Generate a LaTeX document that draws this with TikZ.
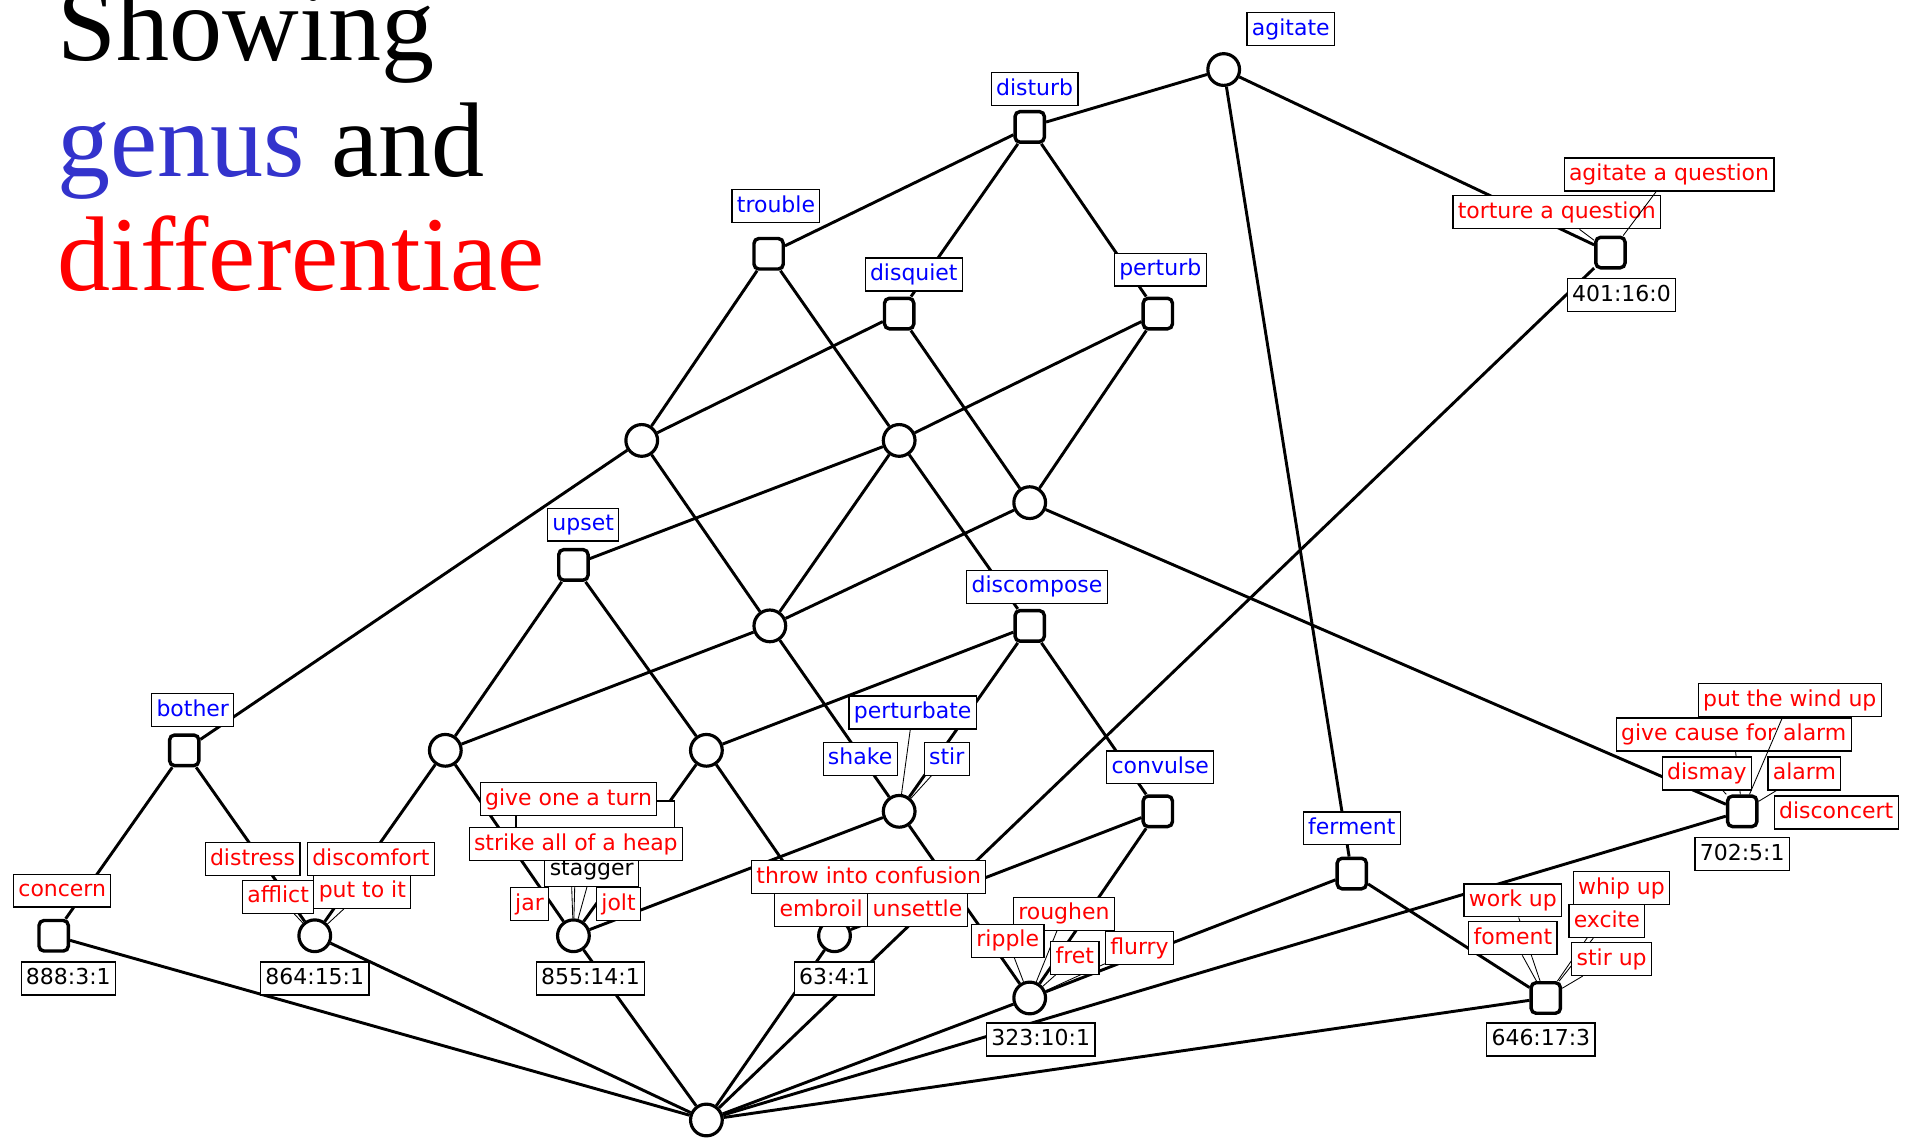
\documentclass[tikz,border=0pt]{standalone}
\usepackage{fontspec}
\usetikzlibrary{backgrounds}
\setmainfont{Liberation Serif}
\newfontfamily\labelfont{DejaVu Sans}
\definecolor{genuscol}{RGB}{51,51,204}
\definecolor{gblue}{RGB}{0,0,255}
\definecolor{dred}{RGB}{255,0,0}

\begin{document}
\begin{tikzpicture}[x=1pt,y=-1pt,
 title/.style={font=\fontsize{87}{87}\selectfont,inner sep=0pt,anchor=base west},
 objnode/.style={draw,line width=2.8pt,fill=white,rounded corners=4pt,minimum width=24pt,minimum height=25pt,inner sep=0pt},
 plainnode/.style={draw,circle,line width=2.6pt,fill=white,minimum size=26pt,inner sep=0pt},
 link/.style={line width=2.4pt},
 leader/.style={line width=0.7pt},
 lbl/.style={draw,line width=1pt,fill=white,font=\labelfont\fontsize{18}{18}\selectfont,inner xsep=4pt,inner ysep=4.5pt,text height=14pt,text depth=4pt},
 gen/.style={lbl,text=gblue},
 diff/.style={lbl,text=dred},
 ext/.style={lbl,text=black}]
 \useasboundingbox (0,0) rectangle (1568,933);

 \node[title] (ttlA) at (47,50) {Showing};
 \node[title] (ttlB) at (47,145) {\textcolor{genuscol}{genus} and};
 \node[title,text=dred] (ttlC) at (47,238) {differentiae};

 \node[plainnode] (agt) at (1003,57) {};
 \node[objnode] (dst) at (844,104) {};
 \node[objnode] (trb) at (630,208) {};
 \node[objnode] (dsq) at (737,257) {};
 \node[objnode] (ptb) at (949,257) {};
 \node[objnode] (q401) at (1320,207) {};
 \node[plainnode] (c1) at (526,361) {};
 \node[plainnode] (c2) at (737,361) {};
 \node[plainnode] (c3) at (844,412) {};
 \node[objnode] (ups) at (470,463) {};
 \node[plainnode] (c4) at (631,513) {};
 \node[objnode] (dcp) at (844,513) {};
 \node[objnode] (bth) at (151,615) {};
 \node[plainnode] (c5) at (365,615) {};
 \node[plainnode] (c6) at (579,615) {};
 \node[plainnode] (c7) at (737,665) {};
 \node[objnode] (cnv) at (949,665) {};
 \node[objnode] (q702) at (1428,665) {};
 \node[objnode] (frm) at (1108,716) {};
 \node[objnode] (q888) at (44,767) {};
 \node[plainnode] (q864) at (258,767) {};
 \node[plainnode] (q855) at (470,767) {};
 \node[plainnode] (q63) at (684,767) {};
 \node[plainnode] (q323) at (844,818) {};
 \node[objnode] (q646) at (1267,818) {};
 \node[plainnode] (bot) at (579,918) {};

 \draw[link] (agt) -- (dst);
 \draw[link] (agt) -- (q401);
 \draw[link] (agt) -- (frm);
 \draw[link] (dst) -- (trb);
 \draw[link] (dst) -- (dsq);
 \draw[link] (dst) -- (ptb);
 \draw[link] (trb) -- (c1);
 \draw[link] (trb) -- (c2);
 \draw[link] (dsq) -- (c1);
 \draw[link] (dsq) -- (c3);
 \draw[link] (ptb) -- (c2);
 \draw[link] (ptb) -- (c3);
 \draw[link] (c1) -- (bth);
 \draw[link] (c1) -- (c4);
 \draw[link] (c2) -- (ups);
 \draw[link] (c2) -- (c4);
 \draw[link] (c2) -- (dcp);
 \draw[link] (c3) -- (c4);
 \draw[link] (c3) -- (q702);
 \draw[link] (ups) -- (c5);
 \draw[link] (ups) -- (c6);
 \draw[link] (c4) -- (c5);
 \draw[link] (c4) -- (c7);
 \draw[link] (dcp) -- (c6);
 \draw[link] (dcp) -- (c7);
 \draw[link] (dcp) -- (cnv);
 \draw[link] (bth) -- (q888);
 \draw[link] (bth) -- (q864);
 \draw[link] (c5) -- (q864);
 \draw[link] (c5) -- (q855);
 \draw[link] (c6) -- (q855);
 \draw[link] (c6) -- (q63);
 \draw[link] (c7) -- (q855);
 \draw[link] (c7) -- (q323);
 \draw[link] (cnv) -- (q63);
 \draw[link] (cnv) -- (q323);
 \draw[link] (frm) -- (q323);
 \draw[link] (frm) -- (q646);
 \draw[link] (q401) -- (bot);
 \draw[link] (q702) -- (bot);
 \draw[link] (q646) -- (bot);
 \draw[link] (q323) -- (bot);
 \draw[link] (q63) -- (bot);
 \draw[link] (q855) -- (bot);
 \draw[link] (q864) -- (bot);
 \draw[link] (q888) -- (bot);

 \node[gen] (lAgt) at (1058,24) {agitate};
 \node[gen] (lDst) at (848,73) {disturb};
 \node[gen] (lTrb) at (636,169) {trouble};
 \node[gen] (lDsq) at (749,225) {disquiet};
 \node[gen] (lPtb) at (951,221) {perturb};
 \node[gen] (lUps) at (478,430) {upset};
 \node[gen] (lDcp) at (850,481) {discompose};
 \node[gen] (lBth) at (158,582) {bother};
 \node[gen] (lPtbt) at (748,584) {perturbate};
 \node[gen] (lShk) at (705,622) {shake};
 \node[gen] (lStr) at (776,622) {stir};
 \node[gen] (lCnv) at (951,629) {convulse};
 \node[gen] (lFrm) at (1108,679) {ferment};

 \node[diff] (lAgq) at (1368,143) {agitate a question};
 \node[diff] (lTrq) at (1276,174) {torture a question};
 \node[ext] (e401) at (1329,242) {401:16:0};

 \node[diff] (lGca) at (1421,602) {give cause for alarm};
 \node[diff] (lPwu) at (1467,574) {put the wind up};
 \node[diff] (lDsm) at (1399,634) {dismay};
 \node[diff] (lAlm) at (1479,634) {alarm};
 \node[diff] (lDsc) at (1505,666) {disconcert};
 \node[ext] (e702) at (1428,700) {702:5:1};

 \node[diff] (lCnc) at (51,730) {concern};
 \node[ext] (e888) at (56,802) {888:3:1};

 \node[diff] (lDts) at (207,704) {distress};
 \node[diff] (lDcf) at (304,704) {discomfort};
 \node[diff] (lAfl) at (228,735) {afflict};
 \node[diff] (lPti) at (297,731) {put to it};
 \node[ext] (e864) at (258,802) {864:15:1};

 \node[lbl,minimum width=130pt,minimum height=20pt] (lHid) at (488,670) {};
 \node[ext] (lStg) at (485,713) {stagger};
 \node[diff] (lGot) at (466,655) {give one a turn};
 \node[diff] (lSah) at (472,692) {strike all of a heap};
 \node[diff] (lJar) at (434,741) {jar};
 \node[diff] (lJlt) at (507,741) {jolt};
 \node[ext] (e855) at (484,802) {855:14:1};

 \node[diff] (lTic) at (712,719) {throw into confusion};
 \node[diff] (lUns) at (752,746) {unsettle};
 \node[diff] (lEmb) at (673,746) {embroil};
 \node[ext] (e63) at (684,802) {63:4:1};

 \node[diff] (lRgh) at (872,749) {roughen};
 \node[diff] (lRpl) at (826,771) {ripple};
 \node[diff] (lFrt) at (881,785) {fret};
 \node[diff] (lFlr) at (934,777) {flurry};
 \node[ext] (e323) at (853,852) {323:10:1};

 \node[diff] (lWkp) at (1240,738) {work up};
 \node[diff] (lFmt) at (1240,769) {foment};
 \node[diff] (lWhp) at (1329,728) {whip up};
 \node[diff] (lExc) at (1317,755) {excite};
 \node[diff] (lSup) at (1321,786) {stir up};
 \node[ext] (e646) at (1263,852) {646:17:3};

 \begin{pgfonlayer}{background}
  \draw[leader] (lTrq) -- (q401);
  \draw[leader] (lGca) -- (q702);
  \draw[leader] (lDsm) -- (q702);
  \draw[leader] (lAlm) -- (q702);
  \draw[leader] (lPtbt) -- (c7);
  \draw[leader] (lStr) -- (c7);
  \draw[leader] (lPti) -- (q864);
  \draw[leader] (lAfl) -- (q864);
  \draw[leader] (lGot) -- (q855);
  \draw[leader] (lSah) -- (q855);
  \draw[leader] (lStg) -- (q855);
  \draw[leader] (lRpl) -- (q323);
  \draw[leader] (lFrt) -- (q323);
  \draw[leader] (lRgh) -- (q323);
  \draw[leader] (lFlr) -- (q323);
  \draw[leader] (lFmt) -- (q646);
  \draw[leader] (lWkp) -- (q646);
  \draw[leader] (lWhp) -- (q646);
  \draw[leader] (lExc) -- (q646);
  \draw[leader] (lSup) -- (q646);
 \end{pgfonlayer}
 \draw[leader] (lAgq) -- (q401);
 \draw[leader] (lPwu) -- (q702);
\end{tikzpicture}
\end{document}
